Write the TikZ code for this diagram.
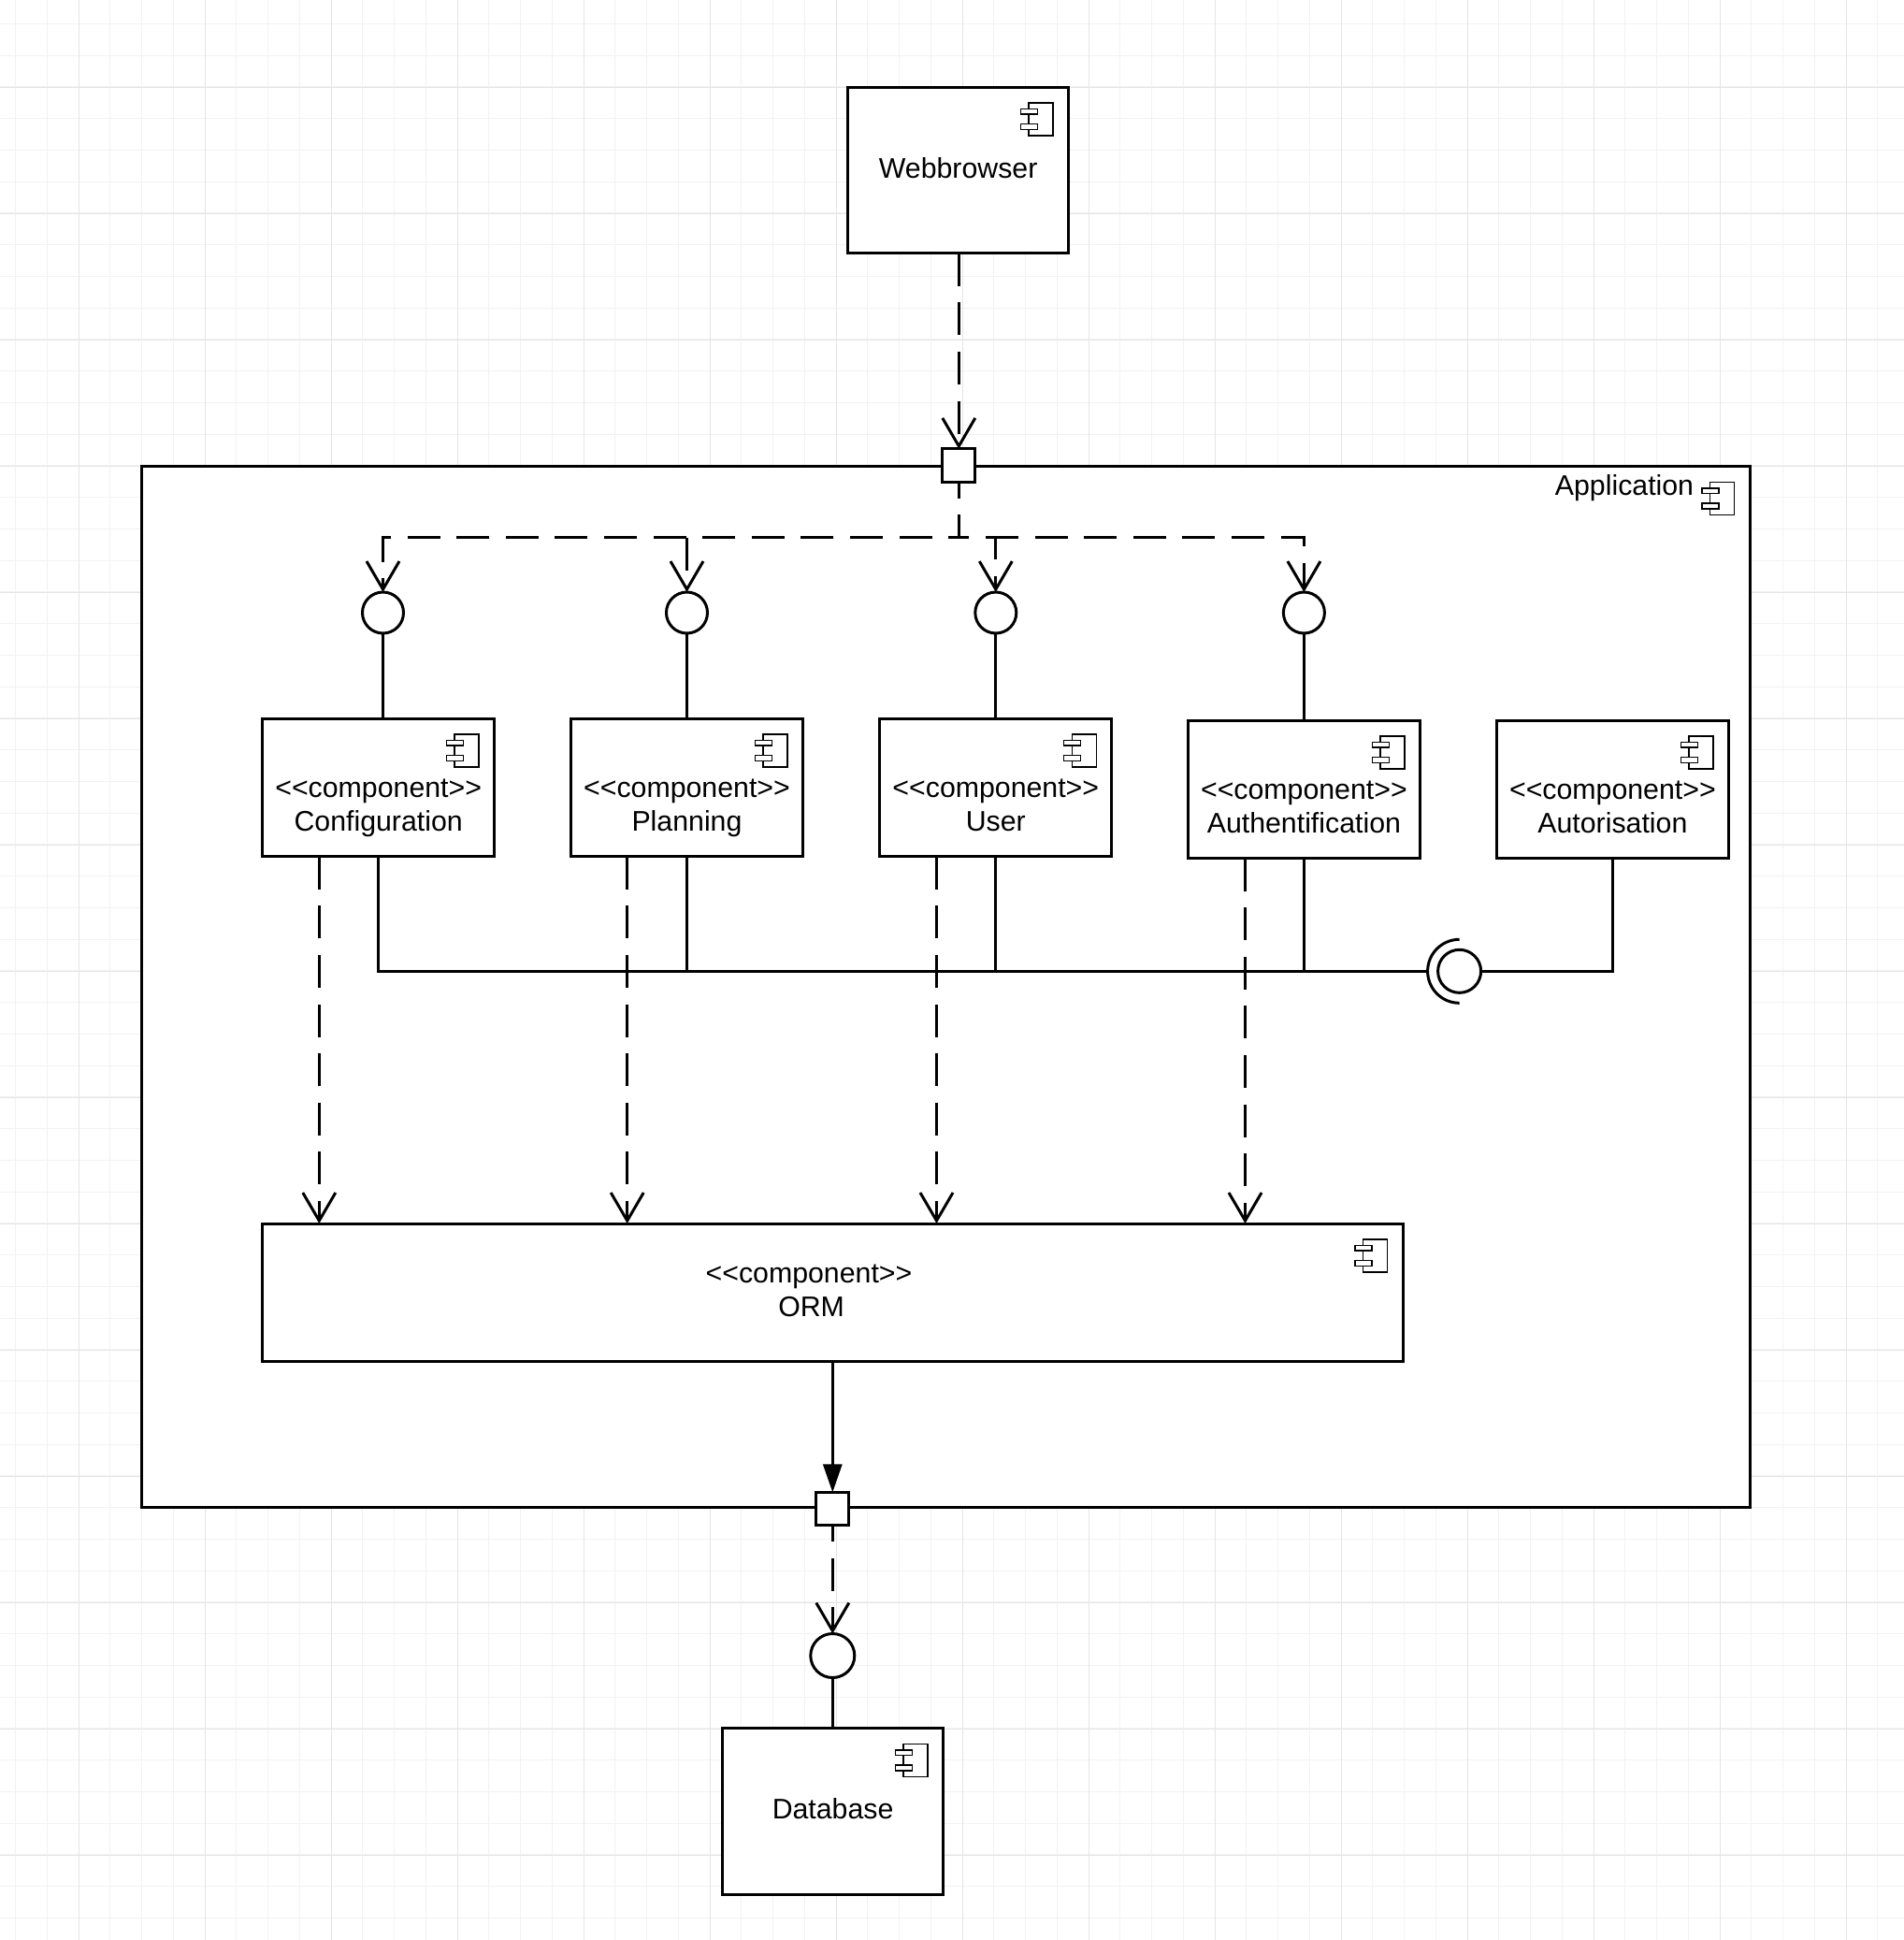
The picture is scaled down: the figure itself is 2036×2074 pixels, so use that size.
\documentclass[tikz,border=0pt]{standalone}
\usepackage{fontspec}
\setmainfont{Liberation Sans}
\usetikzlibrary{arrows.meta}
\pgfdeclarelayer{back}
\pgfdeclarelayer{wires}
\pgfsetlayers{back,wires,main}
\tikzset{
  box/.style={draw=black,fill=white,line width=1.5pt,inner sep=0pt,outer sep=0pt,rectangle},
  port/.style={box,minimum size=17.6pt},
  iface/.style={draw=black,fill=white,line width=1.5pt,inner sep=0pt,outer sep=0pt,circle,minimum size=22pt},
  lbl/.style={font=\fontsize{15.15pt}{18pt}\selectfont,align=center,inner sep=0pt,text=black},
  wire/.style={line width=1.5pt,draw=black},
  dep/.style={wire,dash pattern=on 17.5pt off 8.8pt,-{Straight Barb[length=15pt,width=17.5pt]}},
  flow/.style={wire,-{Triangle[length=15pt,width=10pt]}},
  icon/.style={draw=black,fill=white,line width=0.7pt},
  minorgrid/.style={draw=black!5,line width=0.5pt},
  majorgrid/.style={draw=black!10,line width=0.5pt}
}
% name, centre x, centre y, width, height (px of the reference)
\newcommand{\compbox}[5]{%
  \node[box,minimum width={#4*0.5pt},minimum height={#5*0.5pt}] (#1) at (#2,#3) {};
  \compicon{#1}}
\newcommand{\compicon}[1]{%
  \draw[icon] ([xshift=-21.3pt,yshift=-8.4pt]#1.north east) rectangle ([xshift=-8.3pt,yshift=-25.9pt]#1.north east);
  \draw[icon] ([xshift=-25.6pt,yshift=-11.7pt]#1.north east) rectangle ([xshift=-16.6pt,yshift=-14.4pt]#1.north east);
  \draw[icon] ([xshift=-25.6pt,yshift=-19.7pt]#1.north east) rectangle ([xshift=-16.6pt,yshift=-22.7pt]#1.north east);}
\newcommand{\stereo}[1]{<{}<component>{}>\vphantom{g}\\#1\vphantom{g}}
\begin{document}
\begin{tikzpicture}[x=0.5pt,y=-0.5pt]
\useasboundingbox (0,0) rectangle (2036,2074);
\begin{pgfonlayer}{back}
  \fill[white] (0,0) rectangle (2036,2074);
  \foreach \k in {0,...,60} {
    \draw[minorgrid] ({16.6+33.75*\k},0) -- ({16.6+33.75*\k},2074);
    \draw[minorgrid] (0,{25.3+33.75*\k}) -- (2036,{25.3+33.75*\k});
  }
  \foreach \k in {0,...,14} {
    \draw[majorgrid] ({84.3+135*\k},0) -- ({84.3+135*\k},2074);
    \draw[majorgrid] (0,{93.3+135*\k}) -- (2036,{93.3+135*\k});
  }
  \node[box,minimum width={1720*0.5pt},minimum height={1113*0.5pt}] (app) at (1011.3,1055.2) {};
  \compicon{app}
\end{pgfonlayer}

% components
\compbox{web}{1024.6}{182}{236}{177.4}
\compbox{cfg}{404.7}{842}{248}{147.4}
\compbox{pln}{734.5}{842}{248}{147.4}
\compbox{usr}{1064.8}{842}{248}{147.4}
\compbox{ath}{1394.4}{843.8}{248}{147.4}
\compbox{atr}{1724.4}{843.8}{248}{147.4}
\compbox{orm}{890.35}{1381.5}{1219.3}{147}
\compbox{dbs}{890.6}{1936.3}{236}{177.4}

% ports
\node[port] (pa) at (1025.3,497.5) {};
\node[port] (pb) at (890.3,1613) {};

% provided interfaces
\node[iface] (ia) at (409.5,655) {};
\node[iface] (ib) at (734.5,655) {};
\node[iface] (ic) at (1064.8,655) {};
\node[iface] (id) at (1394.4,655) {};
\node[iface,minimum size=23.5pt] (ie) at (890.3,1770) {};
\node[iface,minimum size=23pt] (sock) at (1560.6,1038.3) {};

% texts
\node[lbl] (tweb) at (1024.6,180) {Webbrowser};
\node[lbl] (tapp) at (1737,522) {Application};
\node[lbl] (tcfg) at (404.7,864) {\stereo{Configuration}};
\node[lbl] (tpln) at (734.5,864) {\stereo{Planning}};
\node[lbl] (tusr) at (1064.8,864) {\stereo{User}};
\node[lbl] (tath) at (1394.4,866) {\stereo{Authentification}};
\node[lbl] (tatr) at (1724.4,866) {\stereo{Autorisation}};
\node[lbl] (torm) at (865,1382.5) {\stereo{\hspace*{2.6pt}ORM}};
\node[lbl] (tdbs) at (890.6,1934) {Database};

\begin{pgfonlayer}{wires}
  % browser to application
  \draw[dep] (pa |- web.south) -- (pa.north);
  % application port to the four interfaces
  \foreach \i in {ia,ib,ic,id} {
    \draw[dep] (pa.center) |- (\i |- 0,574) -- (\i.north);
  }
  % interfaces to components
  \draw[wire] (ia.south) -- (ia |- cfg.north);
  \draw[wire] (ib.south) -- (ib |- pln.north);
  \draw[wire] (ic.south) -- (ic |- usr.north);
  \draw[wire] (id.south) -- (id |- ath.north);
  % components to ORM
  \draw[dep] (341.3,0 |- cfg.south) -- (341.3,0 |- orm.north);
  \draw[dep] (670.7,0 |- pln.south) -- (670.7,0 |- orm.north);
  \draw[dep] (1001.5,0 |- usr.south) -- (1001.5,0 |- orm.north);
  \draw[dep] (1331.5,0 |- ath.south) -- (1331.5,0 |- orm.north);
  % required interface bus
  \coordinate (sockleft) at ([xshift=-17pt]sock.center);
  \draw[wire] (sockleft) -| (cfg.south);
  \draw[wire] (pln.south) -- (pln |- sock);
  \draw[wire] (usr.south) -- (usr |- sock);
  \draw[wire] (ath.south) -- (ath |- sock);
  \draw[wire] (atr.south) |- (sock.east);
  % ORM to database
  \draw[flow] (pb |- orm.south) -- (pb.north);
  \draw[dep] (pb.center) -- (ie.north);
  \draw[wire] (ie.south) -- (ie |- dbs.north);
\end{pgfonlayer}
\draw[wire] ([yshift=17pt]sock.center) arc[start angle=90,end angle=270,radius=17pt];
\end{tikzpicture}
\end{document}
